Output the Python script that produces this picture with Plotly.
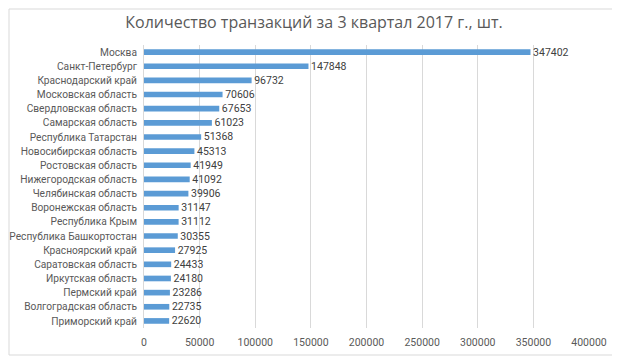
import plotly.graph_objects as go

regions = ["Москва", "Санкт-Петербург", "Краснодарский край", "Московская область",
           "Свердловская область", "Самарская область", "Республика Татарстан",
           "Новосибирская область", "Ростовская область", "Нижегородская область",
           "Челябинская область", "Воронежская область", "Республика Крым",
           "Республика Башкортостан", "Красноярский край", "Саратовская область",
           "Иркутская область", "Пермский край", "Волгоградская область", "Приморский край"]
values = [347402, 147848, 96732, 70606, 67653, 61023, 51368, 45313, 41949, 41092,
          39906, 31147, 31112, 30355, 27925, 24433, 24180, 23286, 22735, 22620]
tick_vals = [0, 50000, 100000, 150000, 200000, 250000, 300000, 350000, 400000]

font_family = "Open Sans, Liberation Sans, sans-serif"
label_family = "Roboto, Open Sans, sans-serif"

# page body has an 8px margin; compensate so the plot lands where the reference has it
W, H = 612, 349
L, R, T, B = 136, 31, 37, 29
pw, ph = W - L - R, H - T - B

fig = go.Figure(go.Bar(
    x=values, y=regions, orientation="h",
    marker=dict(color="#5b9bd5", line=dict(width=0)),
    width=0.4,
    text=["\u00a0" + str(v) for v in values], textposition="outside",
    constraintext="none",
    textfont=dict(size=10.5, color="#404040", family=label_family),
    cliponaxis=False,
))

fig.update_layout(
    width=W, height=H,
    margin=dict(l=L, r=R, t=T, b=B),
    paper_bgcolor="white", plot_bgcolor="white",
    title=dict(text="Количество транзакций за 3 квартал 2017 г., шт.",
               x=0.5, xanchor="center", y=1 - 14 / H, yanchor="middle",
               font=dict(size=16, color="#595959", family=font_family)),
    xaxis=dict(range=[0, 400000], tickvals=tick_vals, ticktext=[str(t) for t in tick_vals],
               showgrid=True, gridcolor="#d9d9d9", gridwidth=1, zeroline=False,
               showline=False, tickfont=dict(size=10.5, color="#595959", family=label_family),
               ticks="", ticklabelstandoff=6, automargin=False),
    yaxis=dict(autorange="reversed", showgrid=False, showline=True, linecolor="#d9d9d9",
               ticks="", tickfont=dict(size=10.2, color="#595959", family=label_family),
               ticklabelstandoff=4, automargin=False),
    font=dict(family=font_family),
    shapes=[dict(type="rect", xref="paper", yref="paper",
                 x0=-(L - 1) / pw, x1=1 + (R - 2) / pw,
                 y0=-(B - 2) / ph, y1=1 + (T - 1) / ph,
                 line=dict(color="#d9d9d9", width=1))],
)

fig.write_html("out.html")
